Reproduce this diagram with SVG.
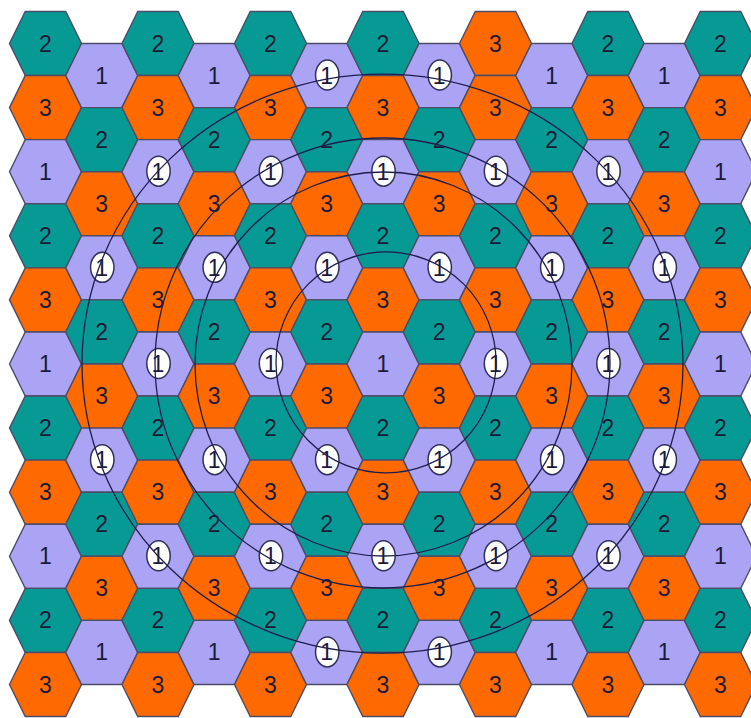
<svg xmlns="http://www.w3.org/2000/svg" xmlns:xlink="http://www.w3.org/1999/xlink" width="751" height="718" viewBox="0 0 751 718">
<style>
.k1{fill:#aba3f3;}
.k2{fill:#079a94;}
.k3{fill:#ff6a00;}
.hx text{font-family:"Liberation Sans",Arial,sans-serif;font-size:23px;text-anchor:middle;fill:#1a1a38;}
.or use.h{stroke:#d98a3a;}
#rings ellipse{fill:none;stroke:#1e1e4e;stroke-width:1.3;}
</style>
<defs>
<polygon id="hp" points="-36,0 -20.25,-32.05 20.25,-32.05 36,0 20.25,32.05 -20.25,32.05" stroke="#4c4c68" stroke-width="1.4"/>
<ellipse id="o" cx="0.5" cy="-0.5" rx="11.7" ry="15" fill="#ffffff" stroke="#30305a" stroke-width="1.5"/>
</defs>
<rect width="751" height="718" fill="#ffffff"/>
<g id="nodes">
<g id="h0-0" class="hx k2" transform="translate(45.5,43.5)"><use class="h" href="#hp"/><text y="8">2</text></g>
<g id="h0-1" class="hx k3" transform="translate(45.5,107.6)"><use class="h" href="#hp"/><text y="8">3</text></g>
<g id="h0-2" class="hx k1" transform="translate(45.5,171.7)"><use class="h" href="#hp"/><text y="8">1</text></g>
<g id="h0-3" class="hx k2" transform="translate(45.5,235.8)"><use class="h" href="#hp"/><text y="8">2</text></g>
<g id="h0-4" class="hx k3" transform="translate(45.5,299.9)"><use class="h" href="#hp"/><text y="8">3</text></g>
<g id="h0-5" class="hx k1" transform="translate(45.5,364)"><use class="h" href="#hp"/><text y="8">1</text></g>
<g id="h0-6" class="hx k2" transform="translate(45.5,428.1)"><use class="h" href="#hp"/><text y="8">2</text></g>
<g id="h0-7" class="hx k3" transform="translate(45.5,492.2)"><use class="h" href="#hp"/><text y="8">3</text></g>
<g id="h0-8" class="hx k1" transform="translate(45.5,556.3)"><use class="h" href="#hp"/><text y="8">1</text></g>
<g id="h0-9" class="hx k2" transform="translate(45.5,620.4)"><use class="h" href="#hp"/><text y="8">2</text></g>
<g id="h0-10" class="hx k3" transform="translate(45.5,684.5)"><use class="h" href="#hp"/><text y="8">3</text></g>

<g id="h1-0" class="hx k1" transform="translate(101.75,75.55)"><use class="h" href="#hp"/><text y="8">1</text></g>
<g id="h1-1" class="hx k2" transform="translate(101.75,139.65)"><use class="h" href="#hp"/><text y="8">2</text></g>
<g id="h1-2" class="hx k3" transform="translate(101.75,203.75)"><use class="h" href="#hp"/><text y="8">3</text></g>
<g id="h1-3" class="hx k1" transform="translate(101.75,267.85)"><use class="h" href="#hp"/><use href="#o"/><text y="8">1</text></g>
<g id="h1-4" class="hx k2" transform="translate(101.75,331.95)"><use class="h" href="#hp"/><text y="8">2</text></g>
<g id="h1-5" class="hx k3" transform="translate(101.75,396.05)"><use class="h" href="#hp"/><text y="8">3</text></g>
<g id="h1-6" class="hx k1" transform="translate(101.75,460.15)"><use class="h" href="#hp"/><use href="#o"/><text y="8">1</text></g>
<g id="h1-7" class="hx k2" transform="translate(101.75,524.25)"><use class="h" href="#hp"/><text y="8">2</text></g>
<g id="h1-8" class="hx k3" transform="translate(101.75,588.35)"><use class="h" href="#hp"/><text y="8">3</text></g>
<g id="h1-9" class="hx k1" transform="translate(101.75,652.45)"><use class="h" href="#hp"/><text y="8">1</text></g>

<g id="h2-0" class="hx k2" transform="translate(158,43.5)"><use class="h" href="#hp"/><text y="8">2</text></g>
<g id="h2-1" class="hx k3" transform="translate(158,107.6)"><use class="h" href="#hp"/><text y="8">3</text></g>
<g id="h2-2" class="hx k1" transform="translate(158,171.7)"><use class="h" href="#hp"/><use href="#o"/><text y="8">1</text></g>
<g id="h2-3" class="hx k2" transform="translate(158,235.8)"><use class="h" href="#hp"/><text y="8">2</text></g>
<g id="h2-4" class="hx k3" transform="translate(158,299.9)"><use class="h" href="#hp"/><text y="8">3</text></g>
<g id="h2-5" class="hx k1" transform="translate(158,364)"><use class="h" href="#hp"/><use href="#o"/><text y="8">1</text></g>
<g id="h2-6" class="hx k2" transform="translate(158,428.1)"><use class="h" href="#hp"/><text y="8">2</text></g>
<g id="h2-7" class="hx k3" transform="translate(158,492.2)"><use class="h" href="#hp"/><text y="8">3</text></g>
<g id="h2-8" class="hx k1" transform="translate(158,556.3)"><use class="h" href="#hp"/><use href="#o"/><text y="8">1</text></g>
<g id="h2-9" class="hx k2" transform="translate(158,620.4)"><use class="h" href="#hp"/><text y="8">2</text></g>
<g id="h2-10" class="hx k3" transform="translate(158,684.5)"><use class="h" href="#hp"/><text y="8">3</text></g>

<g id="h3-0" class="hx k1" transform="translate(214.25,75.55)"><use class="h" href="#hp"/><text y="8">1</text></g>
<g id="h3-1" class="hx k2" transform="translate(214.25,139.65)"><use class="h" href="#hp"/><text y="8">2</text></g>
<g id="h3-2" class="hx k3" transform="translate(214.25,203.75)"><use class="h" href="#hp"/><text y="8">3</text></g>
<g id="h3-3" class="hx k1" transform="translate(214.25,267.85)"><use class="h" href="#hp"/><use href="#o"/><text y="8">1</text></g>
<g id="h3-4" class="hx k2" transform="translate(214.25,331.95)"><use class="h" href="#hp"/><text y="8">2</text></g>
<g id="h3-5" class="hx k3" transform="translate(214.25,396.05)"><use class="h" href="#hp"/><text y="8">3</text></g>
<g id="h3-6" class="hx k1" transform="translate(214.25,460.15)"><use class="h" href="#hp"/><use href="#o"/><text y="8">1</text></g>
<g id="h3-7" class="hx k2" transform="translate(214.25,524.25)"><use class="h" href="#hp"/><text y="8">2</text></g>
<g id="h3-8" class="hx k3" transform="translate(214.25,588.35)"><use class="h" href="#hp"/><text y="8">3</text></g>
<g id="h3-9" class="hx k1" transform="translate(214.25,652.45)"><use class="h" href="#hp"/><text y="8">1</text></g>

<g id="h4-0" class="hx k2" transform="translate(270.5,43.5)"><use class="h" href="#hp"/><text y="8">2</text></g>
<g id="h4-1" class="hx k3" transform="translate(270.5,107.6)"><use class="h" href="#hp"/><text y="8">3</text></g>
<g id="h4-2" class="hx k1" transform="translate(270.5,171.7)"><use class="h" href="#hp"/><use href="#o"/><text y="8">1</text></g>
<g id="h4-3" class="hx k2" transform="translate(270.5,235.8)"><use class="h" href="#hp"/><text y="8">2</text></g>
<g id="h4-4" class="hx k3" transform="translate(270.5,299.9)"><use class="h" href="#hp"/><text y="8">3</text></g>
<g id="h4-5" class="hx k1" transform="translate(270.5,364)"><use class="h" href="#hp"/><use href="#o"/><text y="8">1</text></g>
<g id="h4-6" class="hx k2" transform="translate(270.5,428.1)"><use class="h" href="#hp"/><text y="8">2</text></g>
<g id="h4-7" class="hx k3" transform="translate(270.5,492.2)"><use class="h" href="#hp"/><text y="8">3</text></g>
<g id="h4-8" class="hx k1" transform="translate(270.5,556.3)"><use class="h" href="#hp"/><use href="#o"/><text y="8">1</text></g>
<g id="h4-9" class="hx k2" transform="translate(270.5,620.4)"><use class="h" href="#hp"/><text y="8">2</text></g>
<g id="h4-10" class="hx k3" transform="translate(270.5,684.5)"><use class="h" href="#hp"/><text y="8">3</text></g>

<g id="h5-0" class="hx k1" transform="translate(326.75,75.55)"><use class="h" href="#hp"/><use href="#o"/><text y="8">1</text></g>
<g id="h5-1" class="hx k2" transform="translate(326.75,139.65)"><use class="h" href="#hp"/><text y="8">2</text></g>
<g id="h5-2" class="hx k3" transform="translate(326.75,203.75)"><use class="h" href="#hp"/><text y="8">3</text></g>
<g id="h5-3" class="hx k1" transform="translate(326.75,267.85)"><use class="h" href="#hp"/><use href="#o"/><text y="8">1</text></g>
<g id="h5-4" class="hx k2" transform="translate(326.75,331.95)"><use class="h" href="#hp"/><text y="8">2</text></g>
<g id="h5-5" class="hx k3" transform="translate(326.75,396.05)"><use class="h" href="#hp"/><text y="8">3</text></g>
<g id="h5-6" class="hx k1" transform="translate(326.75,460.15)"><use class="h" href="#hp"/><use href="#o"/><text y="8">1</text></g>
<g id="h5-7" class="hx k2" transform="translate(326.75,524.25)"><use class="h" href="#hp"/><text y="8">2</text></g>
<g id="h5-8" class="hx k3" transform="translate(326.75,588.35)"><use class="h" href="#hp"/><text y="8">3</text></g>
<g id="h5-9" class="hx k1" transform="translate(326.75,652.45)"><use class="h" href="#hp"/><use href="#o"/><text y="8">1</text></g>

<g id="h6-0" class="hx k2 or" transform="translate(383,43.5)"><use class="h" href="#hp"/><text y="8">2</text></g>
<g id="h6-1" class="hx k3" transform="translate(383,107.6)"><use class="h" href="#hp"/><text y="8">3</text></g>
<g id="h6-2" class="hx k1" transform="translate(383,171.7)"><use class="h" href="#hp"/><use href="#o"/><text y="8">1</text></g>
<g id="h6-3" class="hx k2" transform="translate(383,235.8)"><use class="h" href="#hp"/><text y="8">2</text></g>
<g id="h6-4" class="hx k3" transform="translate(383,299.9)"><use class="h" href="#hp"/><text y="8">3</text></g>
<g id="h6-5" class="hx k1" transform="translate(383,364)"><use class="h" href="#hp"/><text y="8">1</text></g>
<g id="h6-6" class="hx k2" transform="translate(383,428.1)"><use class="h" href="#hp"/><text y="8">2</text></g>
<g id="h6-7" class="hx k3" transform="translate(383,492.2)"><use class="h" href="#hp"/><text y="8">3</text></g>
<g id="h6-8" class="hx k1" transform="translate(383,556.3)"><use class="h" href="#hp"/><use href="#o"/><text y="8">1</text></g>
<g id="h6-9" class="hx k2" transform="translate(383,620.4)"><use class="h" href="#hp"/><text y="8">2</text></g>
<g id="h6-10" class="hx k3" transform="translate(383,684.5)"><use class="h" href="#hp"/><text y="8">3</text></g>

<g id="h7-0" class="hx k1" transform="translate(439.25,75.55)"><use class="h" href="#hp"/><use href="#o"/><text y="8">1</text></g>
<g id="h7-1" class="hx k2" transform="translate(439.25,139.65)"><use class="h" href="#hp"/><text y="8">2</text></g>
<g id="h7-2" class="hx k3" transform="translate(439.25,203.75)"><use class="h" href="#hp"/><text y="8">3</text></g>
<g id="h7-3" class="hx k1" transform="translate(439.25,267.85)"><use class="h" href="#hp"/><use href="#o"/><text y="8">1</text></g>
<g id="h7-4" class="hx k2" transform="translate(439.25,331.95)"><use class="h" href="#hp"/><text y="8">2</text></g>
<g id="h7-5" class="hx k3" transform="translate(439.25,396.05)"><use class="h" href="#hp"/><text y="8">3</text></g>
<g id="h7-6" class="hx k1" transform="translate(439.25,460.15)"><use class="h" href="#hp"/><use href="#o"/><text y="8">1</text></g>
<g id="h7-7" class="hx k2" transform="translate(439.25,524.25)"><use class="h" href="#hp"/><text y="8">2</text></g>
<g id="h7-8" class="hx k3" transform="translate(439.25,588.35)"><use class="h" href="#hp"/><text y="8">3</text></g>
<g id="h7-9" class="hx k1" transform="translate(439.25,652.45)"><use class="h" href="#hp"/><use href="#o"/><text y="8">1</text></g>

<g id="h8-0" class="hx k3" transform="translate(495.5,43.5)"><use class="h" href="#hp"/><text y="8">3</text></g>
<g id="h8-1" class="hx k3" transform="translate(495.5,107.6)"><use class="h" href="#hp"/><text y="8">3</text></g>
<g id="h8-2" class="hx k1" transform="translate(495.5,171.7)"><use class="h" href="#hp"/><use href="#o"/><text y="8">1</text></g>
<g id="h8-3" class="hx k2" transform="translate(495.5,235.8)"><use class="h" href="#hp"/><text y="8">2</text></g>
<g id="h8-4" class="hx k3" transform="translate(495.5,299.9)"><use class="h" href="#hp"/><text y="8">3</text></g>
<g id="h8-5" class="hx k1" transform="translate(495.5,364)"><use class="h" href="#hp"/><use href="#o"/><text y="8">1</text></g>
<g id="h8-6" class="hx k2" transform="translate(495.5,428.1)"><use class="h" href="#hp"/><text y="8">2</text></g>
<g id="h8-7" class="hx k3" transform="translate(495.5,492.2)"><use class="h" href="#hp"/><text y="8">3</text></g>
<g id="h8-8" class="hx k1" transform="translate(495.5,556.3)"><use class="h" href="#hp"/><use href="#o"/><text y="8">1</text></g>
<g id="h8-9" class="hx k2" transform="translate(495.5,620.4)"><use class="h" href="#hp"/><text y="8">2</text></g>
<g id="h8-10" class="hx k3" transform="translate(495.5,684.5)"><use class="h" href="#hp"/><text y="8">3</text></g>

<g id="h9-0" class="hx k1" transform="translate(551.75,75.55)"><use class="h" href="#hp"/><text y="8">1</text></g>
<g id="h9-1" class="hx k2" transform="translate(551.75,139.65)"><use class="h" href="#hp"/><text y="8">2</text></g>
<g id="h9-2" class="hx k3" transform="translate(551.75,203.75)"><use class="h" href="#hp"/><text y="8">3</text></g>
<g id="h9-3" class="hx k1" transform="translate(551.75,267.85)"><use class="h" href="#hp"/><use href="#o"/><text y="8">1</text></g>
<g id="h9-4" class="hx k2" transform="translate(551.75,331.95)"><use class="h" href="#hp"/><text y="8">2</text></g>
<g id="h9-5" class="hx k3" transform="translate(551.75,396.05)"><use class="h" href="#hp"/><text y="8">3</text></g>
<g id="h9-6" class="hx k1" transform="translate(551.75,460.15)"><use class="h" href="#hp"/><use href="#o"/><text y="8">1</text></g>
<g id="h9-7" class="hx k2" transform="translate(551.75,524.25)"><use class="h" href="#hp"/><text y="8">2</text></g>
<g id="h9-8" class="hx k3" transform="translate(551.75,588.35)"><use class="h" href="#hp"/><text y="8">3</text></g>
<g id="h9-9" class="hx k1" transform="translate(551.75,652.45)"><use class="h" href="#hp"/><text y="8">1</text></g>

<g id="h10-0" class="hx k2" transform="translate(608,43.5)"><use class="h" href="#hp"/><text y="8">2</text></g>
<g id="h10-1" class="hx k3" transform="translate(608,107.6)"><use class="h" href="#hp"/><text y="8">3</text></g>
<g id="h10-2" class="hx k1" transform="translate(608,171.7)"><use class="h" href="#hp"/><use href="#o"/><text y="8">1</text></g>
<g id="h10-3" class="hx k2" transform="translate(608,235.8)"><use class="h" href="#hp"/><text y="8">2</text></g>
<g id="h10-4" class="hx k3" transform="translate(608,299.9)"><use class="h" href="#hp"/><text y="8">3</text></g>
<g id="h10-5" class="hx k1" transform="translate(608,364)"><use class="h" href="#hp"/><use href="#o"/><text y="8">1</text></g>
<g id="h10-6" class="hx k2" transform="translate(608,428.1)"><use class="h" href="#hp"/><text y="8">2</text></g>
<g id="h10-7" class="hx k3" transform="translate(608,492.2)"><use class="h" href="#hp"/><text y="8">3</text></g>
<g id="h10-8" class="hx k1" transform="translate(608,556.3)"><use class="h" href="#hp"/><use href="#o"/><text y="8">1</text></g>
<g id="h10-9" class="hx k2" transform="translate(608,620.4)"><use class="h" href="#hp"/><text y="8">2</text></g>
<g id="h10-10" class="hx k3" transform="translate(608,684.5)"><use class="h" href="#hp"/><text y="8">3</text></g>

<g id="h11-0" class="hx k1" transform="translate(664.25,75.55)"><use class="h" href="#hp"/><text y="8">1</text></g>
<g id="h11-1" class="hx k2" transform="translate(664.25,139.65)"><use class="h" href="#hp"/><text y="8">2</text></g>
<g id="h11-2" class="hx k3" transform="translate(664.25,203.75)"><use class="h" href="#hp"/><text y="8">3</text></g>
<g id="h11-3" class="hx k1" transform="translate(664.25,267.85)"><use class="h" href="#hp"/><use href="#o"/><text y="8">1</text></g>
<g id="h11-4" class="hx k2" transform="translate(664.25,331.95)"><use class="h" href="#hp"/><text y="8">2</text></g>
<g id="h11-5" class="hx k3" transform="translate(664.25,396.05)"><use class="h" href="#hp"/><text y="8">3</text></g>
<g id="h11-6" class="hx k1" transform="translate(664.25,460.15)"><use class="h" href="#hp"/><use href="#o"/><text y="8">1</text></g>
<g id="h11-7" class="hx k2" transform="translate(664.25,524.25)"><use class="h" href="#hp"/><text y="8">2</text></g>
<g id="h11-8" class="hx k3" transform="translate(664.25,588.35)"><use class="h" href="#hp"/><text y="8">3</text></g>
<g id="h11-9" class="hx k1" transform="translate(664.25,652.45)"><use class="h" href="#hp"/><text y="8">1</text></g>

<g id="h12-0" class="hx k2" transform="translate(720.5,43.5)"><use class="h" href="#hp"/><text y="8">2</text></g>
<g id="h12-1" class="hx k3" transform="translate(720.5,107.6)"><use class="h" href="#hp"/><text y="8">3</text></g>
<g id="h12-2" class="hx k1" transform="translate(720.5,171.7)"><use class="h" href="#hp"/><text y="8">1</text></g>
<g id="h12-3" class="hx k2" transform="translate(720.5,235.8)"><use class="h" href="#hp"/><text y="8">2</text></g>
<g id="h12-4" class="hx k3" transform="translate(720.5,299.9)"><use class="h" href="#hp"/><text y="8">3</text></g>
<g id="h12-5" class="hx k1" transform="translate(720.5,364)"><use class="h" href="#hp"/><text y="8">1</text></g>
<g id="h12-6" class="hx k2" transform="translate(720.5,428.1)"><use class="h" href="#hp"/><text y="8">2</text></g>
<g id="h12-7" class="hx k3" transform="translate(720.5,492.2)"><use class="h" href="#hp"/><text y="8">3</text></g>
<g id="h12-8" class="hx k1" transform="translate(720.5,556.3)"><use class="h" href="#hp"/><text y="8">1</text></g>
<g id="h12-9" class="hx k2" transform="translate(720.5,620.4)"><use class="h" href="#hp"/><text y="8">2</text></g>
<g id="h12-10" class="hx k3" transform="translate(720.5,684.5)"><use class="h" href="#hp"/><text y="8">3</text></g>
</g>
<g id="rings">
<ellipse cx="386" cy="362.3" rx="110" ry="110.5"/>
<ellipse cx="383.5" cy="364" rx="188.5" ry="192"/>
<ellipse cx="382.5" cy="363" rx="227.5" ry="225"/>
<ellipse cx="382.5" cy="363.6" rx="300.5" ry="289.5"/>
</g>
</svg>
